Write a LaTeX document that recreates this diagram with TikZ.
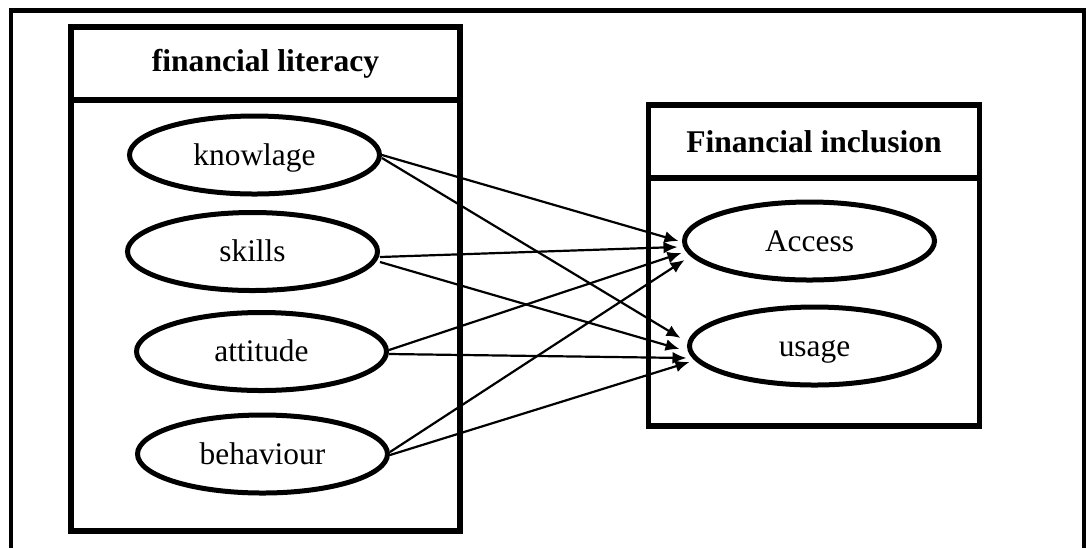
\documentclass[tikz,border=0pt]{standalone}
\usepackage{fontspec}
\setmainfont{Liberation Serif}
\usetikzlibrary{shapes.geometric,arrows.meta}

\tikzset{
  part/.style={draw, ellipse, line width=2.5pt, minimum width=125pt,
    minimum height=39pt, inner sep=0pt, text height=12pt, text depth=2pt,
    font=\fontsize{15.7}{18}\selectfont},
  boxline/.style={line width=2.7pt},
  title/.style={font=\fontsize{15.8}{18}\selectfont\bfseries},
  link/.style={line width=1.1pt, -{Latex[length=7pt,width=6pt]}}
}

\begin{document}
\begin{tikzpicture}[x=0.5pt,y=-0.5pt]
                \useasboundingbox (0,0) rectangle (1086,548);
                \draw [line width=2.3pt] (11,548) -- (11,10.5) -- (1084,10.5) -- (1084,548);
                % financial literacy
                \draw [boxline] (71,27) rectangle (460,531);
                \draw [boxline] (71,100) -- (460,100);
                \node [title] (litTitle) at (265.5,63.5) {financial literacy};
                \node [part] (knowlage) at (254.5,155) {knowlage};
                \node [part] (skills) at (252.5,251.5) {skills};
                \node [part] (attitude) at (261.5,351.5) {attitude};
                \node [part] (behaviour) at (262.5,454) {behaviour};
                % financial inclusion
                \draw [boxline] (648.5,105) rectangle (979.5,426);
                \draw [boxline] (648.5,178) -- (979.5,178);
                \node [title] (incTitle) at (814,141.5) {Financial inclusion};
                \node [part] (Access) at (809.5,241) {Access};
                \node [part] (usage) at (814.5,346) {usage};
                % links
                \draw [link] (knowlage.east) -- ([shift={(-1.75pt,0pt)}]Access.west);
                \draw [link] ([yshift=-1.5pt]knowlage.east) -- ([shift={(-3.25pt,4pt)}]usage.west);
                \draw [link] ([yshift=-2.75pt]skills.east) -- ([shift={(-2.25pt,-3pt)}]Access.west);
                \draw [link] ([yshift=-5.25pt]skills.east) -- ([shift={(-3.75pt,-1.5pt)}]usage.west);
                \draw [link] ([yshift=0.75pt]attitude.east) -- ([shift={(-0.25pt,-6pt)}]Access.west);
                \draw [link] ([yshift=-1.25pt]attitude.east) -- ([shift={(-0.25pt,-6pt)}]usage.west);
                \draw [link] ([yshift=1pt]behaviour.east) -- ([shift={(1.25pt,-9.5pt)}]Access.west);
                \draw [link] ([yshift=-0.5pt]behaviour.east) -- ([shift={(1.25pt,-8pt)}]usage.west);
\end{tikzpicture}
\end{document}
